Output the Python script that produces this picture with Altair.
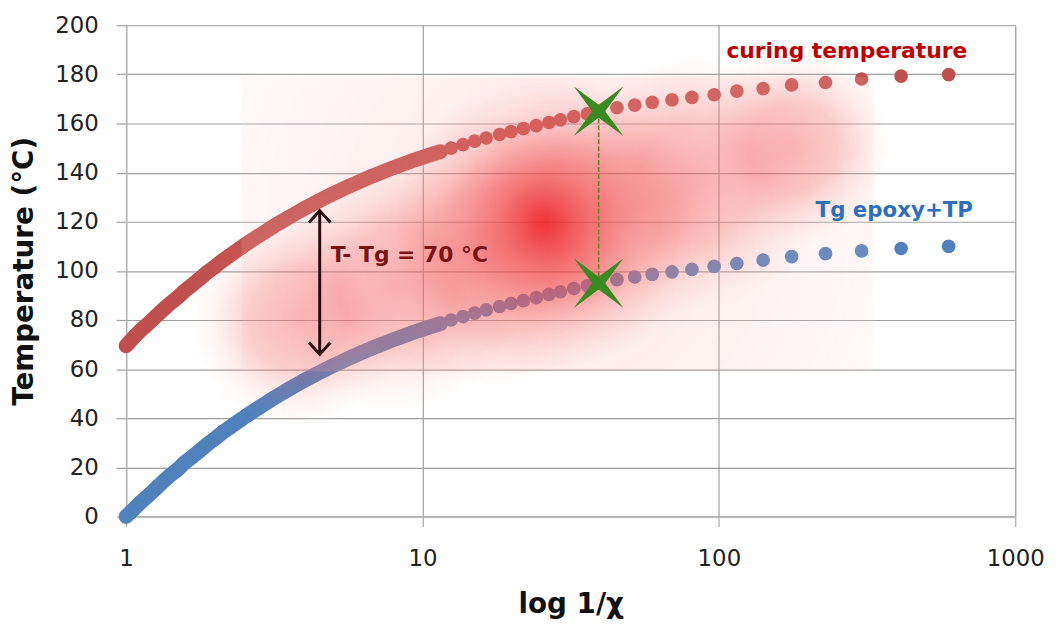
import altair as alt
import pandas as pd

# ---- data ----
inv_chi = [1.0, 1.06, 1.12, 1.19, 1.26, 1.33, 1.41, 1.5, 1.58, 1.68, 1.78, 1.88, 2.0, 2.11,
           2.24, 2.37, 2.51, 2.66, 2.82, 2.99, 3.16, 3.35, 3.55, 3.76, 3.98, 4.22, 4.47, 4.73,
           5.01, 5.31, 5.62, 5.96, 6.31, 6.68, 7.08, 7.5, 7.94, 8.41, 8.91, 9.44, 10.0, 10.6,
           11.5, 12.5, 13.7, 15.0, 16.4, 18.2, 19.9, 21.9, 24.2, 26.7, 29.2, 32.4, 36.0, 39.3,
           45.3, 52.0, 59.6, 69.5, 81.1, 96.4, 115, 141, 176, 229, 303, 412, 596]
tg_epoxy = [0, 2.9, 5.8, 8.6, 11.4, 14.1, 16.8, 19.4, 22.0, 24.5, 27.0, 29.4, 31.8, 34.1,
            36.3, 38.4, 40.5, 42.5, 44.5, 46.4, 48.3, 50.1, 51.9, 53.6, 55.3, 56.9, 58.5, 60.0,
            61.5, 62.9, 64.3, 65.7, 67.0, 68.3, 69.5, 70.7, 71.9, 73.0, 74.1, 75.2, 76.2, 77.2,
            78.5, 80.0, 81.4, 82.8, 84.1, 85.5, 86.7, 87.9, 89.1, 90.4, 91.5, 92.8, 93.9, 95.0,
            96.4, 97.5, 98.6, 99.6, 100.6, 101.8, 103.0, 104.4, 105.8, 107.0, 108.1, 109.1, 110.0]
t_curing = [69.5, 72.9, 75.8, 78.6, 81.4, 84.1, 86.8, 89.4, 92.0, 94.5, 97.0, 99.4, 101.8, 104.1,
            106.3, 108.4, 110.5, 112.5, 114.5, 116.4, 118.3, 120.1, 121.9, 123.6, 125.3, 126.9, 128.5, 130.0,
            131.5, 132.9, 134.3, 135.7, 137.0, 138.3, 139.5, 140.7, 141.9, 143.0, 144.1, 145.2, 146.2, 147.2,
            148.5, 150.0, 151.4, 152.8, 154.1, 155.5, 156.7, 157.9, 159.1, 160.4, 161.5, 162.8, 163.9, 165.0,
            166.4, 167.5, 168.6, 169.6, 170.6, 171.7, 173.2, 174.2, 175.7, 176.7, 178.1, 179.3, 179.9]
n_dense = 43  # points that merge into a continuous band

series_names = ["curing temperature", "Tg epoxy+TP"]
series_colors = ["#C0504D", "#4F81BD"]

star_x = [39.3, 39.3]
star_y = [165, 95]

arrow_x = [4.5]
arrow_y = [66]
arrow_y2 = [124.5]

ann_text = ["curing temperature", "Tg epoxy+TP", "T- Tg = 70 °C"]
ann_x = [106, 212, 4.9]
ann_y = [186.7, 122.0, 103.6]
ann_color = ["#C00000", "#2E6FBA", "#7A1414"]
ann_size = [22, 21.5, 22]

# glow regions (x range, y range)
glow_base = {"x": [2.45], "x2": [332], "y": [59], "y2": [179]}
glow_soft = {"x": [1.625, 3.01, 6.03, 13.03, 30.4, 82.8],
             "x2": [8.86, 22.35, 52.2, 112.8, 225.7, 387],
             "y": [35.6, 41.6, 51.7, 65.9, 84.0, 110.3],
             "y2": [124.4, 146.7, 164.8, 179.0, 189.1, 191.1]}
glow_hot = {"x": [8.14], "x2": [82.2], "y": [59.0], "y2": [180.2]}

# ---- tables ----
rows = []
for i, xv in enumerate(inv_chi):
    rows.append({"x": xv, "y": t_curing[i], "s": series_names[0], "dense": i < n_dense})
    rows.append({"x": xv, "y": tg_epoxy[i], "s": series_names[1], "dense": i < n_dense})
df = pd.DataFrame(rows)
df_dense = df[df["dense"]]

df_star = pd.DataFrame({"x": star_x, "y": star_y})
df_dash = pd.DataFrame({"x": [star_x[0]], "y": [star_y[1]], "y2": [star_y[0]]})
df_arrow = pd.DataFrame({"x": arrow_x, "y": arrow_y, "y2": arrow_y2})
df_head_top = pd.DataFrame({"x": arrow_x, "y": arrow_y2})
df_head_bot = pd.DataFrame({"x": arrow_x, "y": arrow_y})
df_ann = pd.DataFrame({"x": ann_x, "y": ann_y, "t": ann_text, "c": ann_color, "fs": ann_size})

FONT = "DejaVu Sans"
xscale = alt.Scale(type="log", domain=[1, 1000], nice=False)
yscale = alt.Scale(domain=[0, 200], nice=False)
xaxis = alt.Axis(values=[1, 10, 100, 1000], format="d", title="log 1/χ", grid=True,
                 gridColor="#a0a0a0", gridWidth=1.2, domainColor="#b4b4b4", domainWidth=1.5,
                 tickColor="#a8a8a8", tickSize=10, tickWidth=1.2, labelFont=FONT, labelFontSize=23,
                 labelColor="#222222", labelPadding=21, labelFlush=False,
                 titleFont=FONT, titleFontSize=28, titleFontWeight="bold", titleColor="#111111",
                 titleX=448, titleY=97, titleBaseline="alphabetic", titleAlign="center")
yaxis = alt.Axis(values=list(range(0, 201, 20)), title="Temperature (°C)", grid=True,
                 gridColor="#a0a0a0", gridWidth=1.2, domainColor="#b4b4b4", domainWidth=1.5,
                 tickColor="#a0a0a0", tickSize=10, tickWidth=1.2, labelFont=FONT, labelFontSize=23,
                 labelColor="#222222", labelPadding=18,
                 titleFont=FONT, titleFontSize=28, titleFontWeight="bold", titleColor="#111111",
                 titleX=-102, titleY=247.5, titleAngle=270, titleBaseline="middle", titleAlign="center")


def X(f="x"):
    return alt.X(f"{f}:Q", scale=xscale, axis=xaxis)


def Y(f="y"):
    return alt.Y(f"{f}:Q", scale=yscale, axis=yaxis)


color = alt.Color("s:N", scale=alt.Scale(domain=series_names, range=series_colors), legend=None)

band = alt.Chart(df_dense).mark_line(strokeWidth=15, strokeCap="round", strokeJoin="round").encode(
    x=X(), y=Y(), color=color, detail="s:N")
dots = alt.Chart(df).mark_circle(size=190, opacity=1).encode(x=X(), y=Y(), color=color)


def radial(stops, r2=0.5):
    return {"gradient": "radial", "x1": 0.5, "y1": 0.5, "r1": 0, "x2": 0.5, "y2": 0.5, "r2": r2,
            "stops": [{"offset": o, "color": c} for o, c in stops]}


g_base = alt.Chart(pd.DataFrame(glow_base)).mark_rect(
    fill=radial([(0, "rgba(245,130,125,0.22)"), (0.6, "rgba(250,200,195,0.16)"),
                 (1, "rgba(252,228,222,0.10)")], r2=0.75)
).encode(x=X(), x2="x2:Q", y=Y(), y2="y2:Q")
g_soft = alt.Chart(pd.DataFrame(glow_soft)).mark_rect(
    fill=radial([(0, "rgba(240,60,60,0.33)"), (0.45, "rgba(241,80,80,0.26)"),
                 (0.75, "rgba(243,120,120,0.1)"), (1, "rgba(245,160,160,0)")])
).encode(x=X(), x2="x2:Q", y=Y(), y2="y2:Q")
g_hot = alt.Chart(pd.DataFrame(glow_hot)).mark_rect(
    fill=radial([(0, "rgba(236,28,36,0.82)"), (0.3, "rgba(238,50,50,0.47)"),
                 (0.7, "rgba(240,80,80,0.13)"), (1, "rgba(240,90,90,0)")])
).encode(x=X(), x2="x2:Q", y=Y(), y2="y2:Q")

dash = alt.Chart(df_dash).mark_rule(color="#6f7f1f", strokeWidth=1.6, strokeDash=[5, 2]).encode(
    x=X(), y=Y(), y2="y2:Q")

star_path = "M-1,-1L0,-0.26L1,-1L0.26,0L1,1L0,0.26L-1,1L-0.26,0Z"
stars = alt.Chart(df_star).mark_point(shape=star_path, filled=True, size=2500, color="#3a8a22",
                                      opacity=1).encode(x=X(), y=Y())

arrow = alt.Chart(df_arrow).mark_rule(color="#2a0c0c", strokeWidth=3).encode(x=X(), y=Y(), y2="y2:Q")
head_top = alt.Chart(df_head_top).mark_point(shape="M-1,1.1L0,0L1,1.1", filled=False, size=470,
                                             color="#2a0c0c", strokeWidth=3, opacity=1).encode(x=X(), y=Y())
head_bot = alt.Chart(df_head_bot).mark_point(shape="M-1,-1.1L0,0L1,-1.1", filled=False, size=470,
                                             color="#2a0c0c", strokeWidth=3, opacity=1).encode(x=X(), y=Y())

labels = alt.Chart(df_ann).mark_text(font=FONT, fontWeight="bold", align="left", baseline="alphabetic").encode(
    x=X(), y=Y(), text="t:N", color=alt.Color("c:N", scale=None), size=alt.Size("fs:Q", scale=None))

chart = alt.layer(band, dots, g_base, g_soft, g_hot, dash, stars, arrow, head_top, head_bot, labels).properties(
    width=896, height=495,
    padding={"left": 119, "top": 15, "right": 35, "bottom": 108},
    autosize=alt.AutoSizeParams(type="none"),
).configure_view(stroke=None).configure(background="white")

chart.save("out.html", embed_options={"renderer": "svg", "actions": False})
